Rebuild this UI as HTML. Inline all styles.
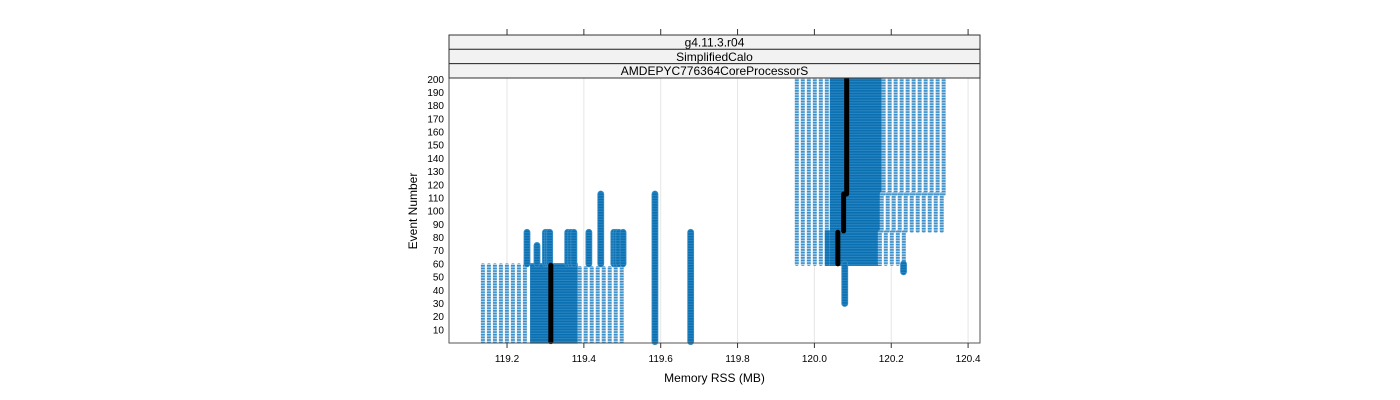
<!DOCTYPE html>
<html><head><meta charset="utf-8"><style>
html,body{margin:0;padding:0;background:#fff;}
svg{display:block;font-family:"Liberation Sans",sans-serif;}
</style></head><body>
<svg id="chart" width="1400" height="400">
<defs>
<pattern id="stripes" width="6" height="2.65" patternUnits="userSpaceOnUse">
<rect width="6" height="2.65" fill="#bcd9ee"/><rect width="6" height="1.6" fill="#3b8fc8"/>
</pattern>
<pattern id="dense" width="6" height="2.65" patternUnits="userSpaceOnUse">
<rect width="6" height="2.65" fill="#2a86c2"/><rect width="6" height="1.6" fill="#0a6fb0"/>
</pattern>
</defs>
</svg>
<script>
// Blocks of points: memory range (MB), event range, dense flag
const blockXStart = [119.132,119.26,119.384, 119.949,120.04,120.027,120.175,120.170,120.165];
const blockXEnd   = [119.26,119.384,119.512, 120.04,120.175,120.04,120.347,120.347,120.248];
const blockEvStart= [1,1,1, 60,60,60,113,85,60];
const blockEvEnd  = [59,59,57, 200,200,84,200,113,84];
const blockDense  = [0,1,0, 0,1,1,0,0,0];
// Single-column spikes
const spikeX  = [119.252,119.278,119.300,119.306,119.311,119.358,119.366,119.374,119.413,119.444,119.478,119.484,119.491,119.502,119.585,119.678,120.079,120.232];
const spikeEs = [60,60,60,60,60,60,60,60,60,60,60,60,60,60,1,1,30,54];
const spikeEe = [84,74,84,84,84,84,84,84,84,113,84,84,84,84,113,84,60,60];
// Median line segments
const medX  = [119.314,120.061,120.076,120.084];
const medEs = [1,60,85,113];
const medEe = [59,84,113,200];
const xTicks = [119.2,119.4,119.6,119.8,120.0,120.2,120.4];
const yTicks = [10,20,30,40,50,60,70,80,90,100,110,120,130,140,150,160,170,180,190,200];

const L=449,R=980,T=78,B=343;
const x0=119.049,x1=120.431;
const X=v=>L+(v-x0)/(x1-x0)*(R-L);
const Y=e=>B-e*(B-T)/201;
const svg=document.getElementById('chart');
const NS='http://www.w3.org/2000/svg';
function mk(tag,attrs,parent){const e=document.createElementNS(NS,tag);for(const k in attrs)e.setAttribute(k,attrs[k]);(parent||svg).appendChild(e);return e;}
function txt(x,y,s,size,anchor,parent){const t=mk('text',{x:x,y:y,'font-size':size,'text-anchor':anchor,fill:'#000'},parent);t.textContent=s;return t;}

// grid
xTicks.forEach(v=>{const l=mk('line',{x1:X(v),x2:X(v),y1:T,y2:B,stroke:'#e6e6e6'});

});

const marks=mk('g',{});


for(let i=0;i<blockXStart.length;i++){
  const xa=X(blockXStart[i]),xb=X(blockXEnd[i]),ya=Y(blockEvEnd[i])-2,yb=Y(blockEvStart[i])+2;
  if(blockDense[i]){
    const r=mk('rect',{x:xa,y:ya,width:xb-xa,height:yb-ya,fill:'url(#dense)'},marks);
    
    
  } else {
    for(let x=xa;x<=xb-3;x+=6){
      const r=mk('rect',{x:x,y:ya,width:4,height:yb-ya,fill:'url(#stripes)',rx:2},marks);
      
      
    }
  }
}
for(let i=0;i<spikeX.length;i++){
  const r=mk('rect',{x:X(spikeX[i])-3,y:Y(spikeEe[i])-3,width:6,height:Y(spikeEs[i])-Y(spikeEe[i])+6,rx:3,fill:'url(#dense)',stroke:'#3b8fc8','stroke-width':0.8},marks);
  
  
}
for(let i=0;i<medX.length;i++){
  const l=mk('line',{x1:X(medX[i]),x2:X(medX[i]),y1:Y(medEe[i]),y2:Y(medEs[i]),stroke:'#000','stroke-width':5,'stroke-linecap':'round'});
  
  
}
// frame
const f=mk('rect',{x:L,y:T,width:R-L,height:B-T,fill:'none',stroke:'#555'});


// strips
const strips=['g4.11.3.r04','SimplifiedCalo','AMDEPYC776364CoreProcessorS'];
strips.forEach((s,i)=>{
  const y=35+i*14.33;
  const r=mk('rect',{x:L,y:y,width:R-L,height:14.33,fill:'#f2f2f2',stroke:'#333'});
  
  
  const t=txt((L+R)/2,y+11.5,s,12,'middle');
  
  
});
// x ticks
xTicks.forEach(v=>{
  mk('line',{x1:X(v),x2:X(v),y1:B,y2:B+5,stroke:'#333'});
  mk('line',{x1:X(v),x2:X(v),y1:29,y2:35,stroke:'#333'});
  const t=txt(X(v),362,v.toFixed(1),10,'middle');
  
  
});
yTicks.forEach(v=>{
  const t=txt(444,Y(v)+3.5,String(v),10,'end');
  
  
});
const xt=txt((L+R)/2,382,'Memory RSS (MB)',12,'middle');


const yt=txt(0,0,'Event Number',12,'middle');
yt.setAttribute('transform','translate(417,211) rotate(-90)');


</script>
</body></html>
